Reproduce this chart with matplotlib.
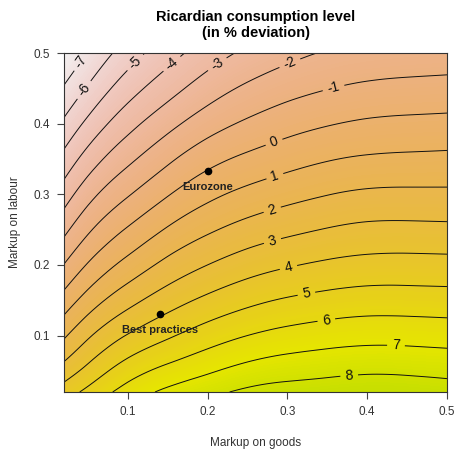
import numpy as np
import matplotlib
matplotlib.use("Agg")
import matplotlib.pyplot as plt
import matplotlib.tri as mtri
from matplotlib.colors import ListedColormap, Normalize, hsv_to_rgb

plt.rcParams['font.family'] = ['Liberation Sans', 'DejaVu Sans']
plt.rcParams['contour.negative_linestyle'] = 'solid'

# grid: consumption level (% deviation)
markup_goods = [0.02, 0.05, 0.1, 0.15, 0.2, 0.25, 0.3, 0.35, 0.4, 0.45, 0.5]
markup_labour = [0.02, 0.06, 0.1, 0.15, 0.2, 0.25, 0.3, 0.35, 0.4, 0.45, 0.5]
# one row per markup_labour value, one column per markup_goods value
consumption = [
    [4.50, 5.26, 6.40, 7.22, 7.74, 8.18, 8.38, 8.50, 8.62, 8.58, 8.44],
    [3.10, 4.00, 5.24, 6.00, 6.58, 7.07, 7.36, 7.52, 7.63, 7.60, 7.51],
    [1.85, 2.85, 4.06, 4.86, 5.50, 6.00, 6.33, 6.54, 6.66, 6.65, 6.58],
    [0.40, 1.42, 2.65, 3.54, 4.22, 4.74, 5.10, 5.33, 5.47, 5.47, 5.43],
    [-0.97, 0.08, 1.33, 2.29, 3.00, 3.54, 3.91, 4.17, 4.33, 4.36, 4.33],
    [-2.27, -1.17, 0.10, 1.10, 1.84, 2.38, 2.76, 3.05, 3.24, 3.27, 3.24],
    [-3.50, -2.38, -1.09, -0.07, 0.74, 1.27, 1.66, 1.97, 2.17, 2.21, 2.20],
    [-4.68, -3.58, -2.24, -1.20, -0.34, 0.21, 0.61, 0.93, 1.12, 1.19, 1.23],
    [-5.81, -4.76, -3.36, -2.32, -1.45, -0.84, -0.39, -0.07, 0.14, 0.23, 0.28],
    [-6.90, -5.89, -4.45, -3.40, -2.50, -1.83, -1.36, -1.03, -0.81, -0.71, -0.65],
    [-8.00, -6.95, -5.50, -4.40, -3.50, -2.80, -2.29, -1.92, -1.73, -1.62, -1.56],
]
contour_levels = list(range(-7, 9))

point_names = ['Eurozone', 'Best practices']
point_goods = [0.2, 0.14]
point_labour = [0.333, 0.13]

# where the contour labels sit
label_pos = [(0.042, 0.487), (0.046, 0.447), (0.109, 0.487), (0.155, 0.485),
             (0.211, 0.486), (0.3025, 0.487), (0.359, 0.445), (0.2825, 0.376),
             (0.284, 0.3265), (0.281, 0.278), (0.281, 0.235), (0.301, 0.198),
             (0.324, 0.158), (0.349, 0.120), (0.436, 0.0836), (0.3775, 0.0426)]


def terrain_rev(z):
    # reversed R terrain.colors, yellow around 7, white around -8
    t = np.clip((7 - z) / 15.0, -1, 1)
    out = []
    for ti in t:
        if ti >= 0:
            h, s, v = (2 / 12) * (1 - ti), 1 - ti, 0.9 + 0.05 * ti
        else:
            u = -ti
            h, s, v = 2 / 12 + (2 / 12) * u, 1.0, 0.9 - 0.25 * u
        out.append(hsv_to_rgb([h, s, v]))
    return np.array(out)


zlo, zhi = -9.0, 9.5
cmap = ListedColormap(terrain_rev(np.linspace(zlo, zhi, 256)))
norm = Normalize(zlo, zhi)

# grid cells split along the lower-left / upper-right diagonal
X, Y = np.meshgrid(markup_goods, markup_labour)
Z = np.array(consumption)
nx, ny = len(markup_goods), len(markup_labour)
triangles = []
for i in range(ny - 1):
    for j in range(nx - 1):
        k = i * nx + j
        triangles.append([k, k + 1, k + nx + 1])
        triangles.append([k, k + nx + 1, k + nx])
tri = mtri.Triangulation(X.ravel(), Y.ravel(), triangles)
interp = mtri.CubicTriInterpolator(tri, Z.ravel(), kind='min_E')
refiner = mtri.UniformTriRefiner(tri)
tri_f, z_f = refiner.refine_field(Z.ravel(), triinterpolator=interp, subdiv=3)

fig = plt.figure(figsize=(4.55, 4.5), dpi=100)
ax = fig.add_axes([64 / 455, 1 - 392 / 450, (447 - 64) / 455, (392 - 53) / 450])

ax.tricontourf(tri_f, z_f, levels=np.linspace(zlo, zhi, 186), cmap=cmap, norm=norm)
cs = ax.tricontour(tri_f, z_f, levels=contour_levels, colors='#111111',
                   linewidths=0.7, linestyles='solid')
ax.clabel(cs, manual=label_pos, inline=True, fontsize=10, fmt='%d', colors='#111111')

ax.plot(point_goods, point_labour, 'o', color='black', markersize=4.5)
for name, gx, ly in zip(point_names, point_goods, point_labour):
    ax.annotate(name, (gx, ly), xytext=(0, -16), textcoords='offset pixels',
                ha='center', va='center', fontsize=8, fontweight='bold', color='#222222')

ax.set_xlim(0.02, 0.5)
ax.set_ylim(0.02, 0.5)
ax.set_xticks([0.1, 0.2, 0.3, 0.4, 0.5])
ax.set_yticks([0.1, 0.2, 0.3, 0.4, 0.5])
ax.set_xticklabels(['0.1', '0.2', '0.3', '0.4', '0.5'])
ax.set_yticklabels(['0.1', '0.2', '0.3', '0.4', '0.5'])
ax.tick_params(direction='out', length=5, width=0.8, colors='#444444', labelsize=8.5,
               labelcolor='#333333', pad=5)
for sp in ax.spines.values():
    sp.set_color('#333333')
    sp.set_linewidth(0.8)

fig.text(255.5 / 455, 1 - 443 / 450, 'Markup on goods', ha='center', va='center',
         fontsize=8.5, color='#333333')
fig.text(15 / 455, 1 - 222 / 450, 'Markup on labour', ha='center', va='center',
         rotation=90, fontsize=8.5, color='#333333')
fig.text(255.5 / 455, 1 - 25 / 450, 'Ricardian consumption level\n(in % deviation)',
         ha='center', va='center', fontsize=10.5, fontweight='bold', linespacing=1.15)

fig.savefig('out.png', dpi=100)
